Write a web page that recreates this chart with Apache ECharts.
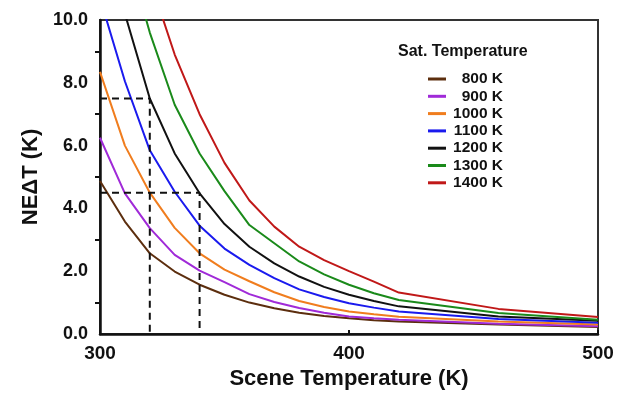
<!DOCTYPE html>
<html>
<head>
<meta charset="utf-8">
<script src="https://cdn.jsdelivr.net/npm/echarts@6/dist/echarts.min.js"></script>
<style>
    html, body { margin: 0; padding: 0; background: #fff; }
    #main { width: 617px; height: 395px; }
</style>
</head>
<body>
<div id="main"></div>
<script>
    // scene temperature (K) where each curve was sampled
    var sceneT = [300, 310, 320, 330, 340, 350, 360, 370, 380, 390, 400, 410, 420, 460, 500];

    // NEdT (K) per saturation temperature
    var satNames = ['800 K', '900 K', '1000 K', '1100 K', '1200 K', '1300 K', '1400 K'];
    var ne800 = [4.87, 3.58, 2.57, 1.99, 1.57, 1.25, 1.0, 0.82, 0.68, 0.57, 0.5, 0.44, 0.4, 0.3, 0.22];
    var ne900 = [6.25, 4.48, 3.37, 2.52, 2.02, 1.65, 1.27, 1.02, 0.83, 0.68, 0.56, 0.5, 0.45, 0.33, 0.25];
    var ne1000 = [8.35, 6.0, 4.5, 3.38, 2.57, 2.05, 1.68, 1.33, 1.05, 0.86, 0.72, 0.63, 0.55, 0.4, 0.3];
    var ne1100 = [10.7, 8.05, 5.85, 4.53, 3.45, 2.72, 2.2, 1.78, 1.42, 1.18, 0.98, 0.84, 0.72, 0.48, 0.36];
    var ne1200 = [13.5, 10.2, 7.5, 5.75, 4.48, 3.5, 2.78, 2.25, 1.83, 1.5, 1.25, 1.05, 0.88, 0.56, 0.42];
    var ne1300 = [null, 12.4, 9.6, 7.3, 5.75, 4.55, 3.47, 2.89, 2.31, 1.9, 1.57, 1.3, 1.08, 0.67, 0.45];
    var ne1400 = [null, null, 11.3, 8.9, 7.0, 5.45, 4.25, 3.42, 2.78, 2.35, 2.0, 1.67, 1.32, 0.8, 0.54];
    var satColors = ['#5c2e0e', '#a02ad8', '#f07d1e', '#1a1aee', '#111111', '#1a8a1a', '#c01818'];

    // dashed guide lines
    var guideA = [[300, 7.5], [320, 7.5], [320, 0]];
    var guideB = [[300, 4.5], [340, 4.5], [340, 0]];

    var yTicks = [0, 2, 4, 6, 8, 10];
    var xTicks = [300, 400, 500];

    var font = '"Liberation Sans", Arial, sans-serif';
    var allNe = [ne800, ne900, ne1000, ne1100, ne1200, ne1300, ne1400];

    var series = allNe.map(function (vals, i) {
        return {
            name: satNames[i], type: 'line', showSymbol: false, symbol: 'none',
            lineStyle: {color: satColors[i], width: 2}, itemStyle: {color: satColors[i]},
            clip: true,
            data: sceneT.map(function (t, j) { return [t, vals[j]]; })
        };
    });
    [guideA, guideB].forEach(function (g) {
        series.push({
            type: 'line', showSymbol: false, symbol: 'none', silent: true,
            lineStyle: {color: '#111', width: 2, type: [7, 5]},
            data: g
        });
    });

    var chart = echarts.init(document.getElementById('main'));
    chart.setOption({
        animation: false,
        grid: {left: 100, right: 19, top: 20, bottom: 59, show: true, borderColor: '#333', borderWidth: 2},
        graphic: [{
            type: 'text', left: 398, top: 44,
            style: {text: 'Sat. Temperature', font: 'bold 16px ' + font, fill: '#111'}
        }],
        legend: {
            data: satNames, orient: 'vertical', left: 423, top: 66,
            icon: 'rect', itemWidth: 18, itemHeight: 3, itemGap: 1.3,
            formatter: function (n) { return '{a|' + n + '}'; },
            textStyle: {
                rich: {a: {width: 52, align: 'right', fontSize: 15.5, fontWeight: 'bold', fontFamily: font, color: '#111'}}
            }
        },
        xAxis: {
            type: 'value', min: 300, max: 500, interval: 100,
            name: 'Scene Temperature (K)', nameLocation: 'middle', nameGap: 34,
            nameTextStyle: {fontSize: 22, fontWeight: 'bold', fontFamily: font, color: '#111'},
            axisLine: {lineStyle: {color: '#111', width: 2.5}},
            axisTick: {inside: true, length: 4, lineStyle: {color: '#111', width: 2}},
            splitLine: {show: false},
            axisLabel: {
                fontSize: 19, fontWeight: 'bold', fontFamily: font, color: '#111', margin: 10,
                formatter: function (v) { return xTicks.indexOf(v) >= 0 ? String(v) : ''; }
            }
        },
        yAxis: {
            type: 'value', min: 0, max: 10, interval: 2,
            name: 'NE\u0394T (K)', nameLocation: 'middle', nameGap: 57, nameRotate: 90,
            nameTextStyle: {fontSize: 22, fontWeight: 'bold', fontFamily: font, color: '#111'},
            axisLine: {show: true, lineStyle: {color: '#111', width: 2.5}},
            axisTick: {show: false},
            minorTick: {show: true, splitNumber: 2, length: 5, lineStyle: {color: '#111', width: 2}},
            splitLine: {show: false},
            axisLabel: {
                fontSize: 18, fontWeight: 'bold', fontFamily: font, color: '#111', margin: 12,
                formatter: function (v) { return yTicks.indexOf(v) >= 0 ? v.toFixed(1) : ''; }
            }
        },
        series: series
    });
</script>
</body>
</html>
